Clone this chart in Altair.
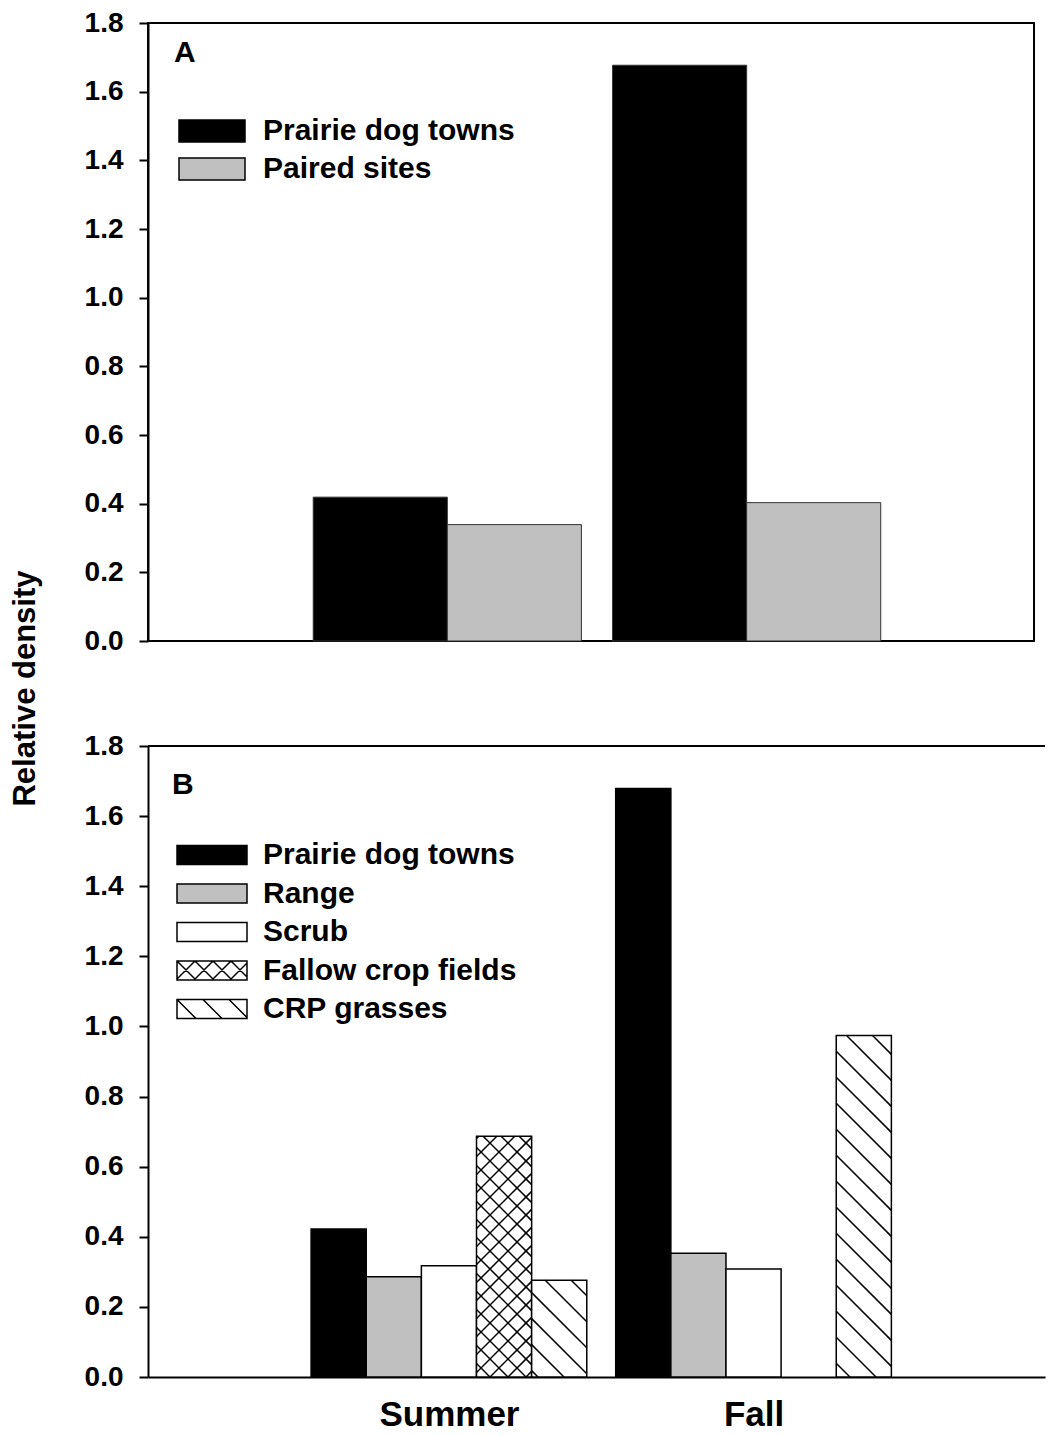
import math
import altair as alt
import pandas as pd

# ---------------- data ----------------
seasons = ["Summer", "Fall"]

a_series = ["Prairie dog towns", "Paired sites"]
a_summer = [0.419, 0.339]
a_fall = [1.677, 0.403]

b_series = ["Prairie dog towns", "Range", "Scrub", "Fallow crop fields", "CRP grasses"]
b_summer = [0.422, 0.286, 0.317, 0.687, 0.276]
b_fall = [1.679, 0.353, 0.308, None, 0.974]

y_ticks = [0.0, 0.2, 0.4, 0.6, 0.8, 1.0, 1.2, 1.4, 1.6, 1.8]
y_title = "Relative density"

# ---------------- styles / layout ----------------
FONT = "Liberation Sans"
GRAY = "#c0c0c0"
a_fills = ["black", GRAY]
b_fills = ["black", GRAY, "white", "white", "white"]
b_patterns = [None, None, None, "cross", "diag"]
PERIOD = {"cross": 18.0, "diag": 26.0}

A_W, A_H = 886, 618
B_W, B_H = 897, 631
A_XDOM = [0.0, 2.96]
B_XDOM = [0.012, 0.012 + B_W / 304.6]
BAR_A = 0.448
BAR_B = 0.181
Y_DOM = [0.0, 1.8]


def bar_table(series, summer, fall, width):
    rows = []
    n = len(series)
    for g, vals in enumerate([summer, fall], start=1):
        for s, (name, v) in enumerate(zip(series, vals)):
            if v is None:
                continue
            x0 = g + (s - n / 2) * width
            rows.append(dict(season=seasons[g - 1], series=name, x0=x0, x1=x0 + width, value=v))
    return pd.DataFrame(rows)


a_df = bar_table(a_series, a_summer, a_fall, BAR_A)
b_df = bar_table(b_series, b_summer, b_fall, BAR_B)

# ---- hatch lines for patterned bars (pixel pattern converted to data units) ----
kx = B_W / (B_XDOM[1] - B_XDOM[0])
ky = B_H / (Y_DOM[1] - Y_DOM[0])


def hatch_segments(X0, X1, Y1, kind):
    P = PERIOD[kind]
    segs = []
    # "\" lines on screen: with y pointing up -> Y = -X + c
    for k in range(int(math.floor(X0 / P)) - 1, int(math.ceil((X1 + Y1) / P)) + 2):
        c = k * P
        lo, hi = max(X0, c - Y1), min(X1, c)
        if hi - lo > 0.5:
            segs.append((lo, c - lo, hi, c - hi))
    if kind == "cross":
        # "/" lines: Y = X + c
        for k in range(int(math.floor(-X1 / P)) - 1, int(math.ceil((Y1 - X0) / P)) + 2):
            c = k * P
            lo, hi = max(X0, -c), min(X1, Y1 - c)
            if hi - lo > 0.5:
                segs.append((lo, lo + c, hi, hi + c))
    return segs


hrows = []
for _, r in b_df.iterrows():
    kind = b_patterns[b_series.index(r["series"])]
    if kind is None:
        continue
    X0 = (r["x0"] - B_XDOM[0]) * kx
    X1 = (r["x1"] - B_XDOM[0]) * kx
    Y1 = r["value"] * ky
    for (xa, ya, xb, yb) in hatch_segments(X0, X1, Y1, kind):
        hrows.append(dict(hx0=B_XDOM[0] + xa / kx, hy0=ya / ky,
                          hx1=B_XDOM[0] + xb / kx, hy1=yb / ky))
h_df = pd.DataFrame(hrows)

# ---- legend symbol paths (unit = 10 px, symbol size 400 -> sqrt 20 px) ----
U = 10.0


def rect_path(W, H, kind=None):
    top, bot = -H / (2 * U), H / (2 * U)
    left, right = -1.0, -1.0 + W / U
    p = f"M{left:.3f},{top:.3f}H{right:.3f}V{bot:.3f}H{left:.3f}Z"
    if kind is None:
        return p
    P = PERIOD[kind]
    segs = []
    # "\" on screen (y down): y = x - c
    k = -int(H / P) - 2
    while k * P <= W + P:
        c = k * P
        lo, hi = max(0.0, c), min(W, c + H)
        if hi - lo > 0.5:
            segs.append((lo, lo - c, hi, hi - c))
        k += 1
    if kind == "cross":
        k = -1
        while k * P <= W + H + P:
            c = k * P
            lo, hi = max(0.0, c - H), min(W, c)
            if hi - lo > 0.5:
                segs.append((lo, c - lo, hi, c - hi))
            k += 1
    for (xa, ya, xb, yb) in segs:
        p += (f"M{left + xa / U:.3f},{top + ya / U:.3f}"
              f"L{left + xb / U:.3f},{top + yb / U:.3f}")
    return p


b_paths = [rect_path(70, 19, k) for k in b_patterns]
a_path = rect_path(66, 22)


def legend(title, lx, ly, title_pad, row_pad, label_offset, **extra):
    return alt.Legend(
        title=title, orient="none", legendX=lx, legendY=ly, direction="vertical",
        padding=0, titleFont=FONT, titleFontSize=30, titleFontWeight="bold",
        titleColor="black", titlePadding=title_pad, titleAnchor="start",
        labelFont=FONT, labelFontSize=30, labelFontWeight="bold", labelColor="black",
        labelOffset=label_offset, labelLimit=2000, symbolSize=400,
        symbolStrokeColor="black", symbolStrokeWidth=1.5, rowPadding=row_pad,
        symbolOffset=0, **extra)


def y_axis(title):
    kw = dict(values=y_ticks, format=".1f", grid=False, tickSize=9, tickWidth=2,
              tickColor="black", domainColor="black", domainWidth=2,
              labelFont=FONT, labelFontSize=28, labelFontWeight="bold",
              labelColor="black", labelPadding=16)
    if title:
        kw.update(title=title, titleFont=FONT, titleFontSize=31, titleFontWeight="bold",
                  titleColor="black", titleX=-123, titleY=665, titleAlign="center",
                  titleBaseline="middle", titleAngle=270)
    else:
        kw.update(title=None)
    return alt.Axis(**kw)


yA = alt.Y("value:Q", scale=alt.Scale(domain=Y_DOM, nice=False, zero=False), axis=y_axis(y_title))
yB = alt.Y("value:Q", scale=alt.Scale(domain=Y_DOM, nice=False, zero=False), axis=y_axis(None))

# ---------------- panel A ----------------
legA = legend("A", 26, 15, 48, 8, 59, symbolType=a_path)
panelA = alt.Chart(a_df).mark_rect(stroke="#333333", strokeWidth=1).encode(
    x=alt.X("x0:Q", scale=alt.Scale(domain=A_XDOM, nice=False, zero=False), axis=None),
    x2="x1:Q",
    y=yA,
    y2=alt.datum(0),
    fill=alt.Fill("series:N", scale=alt.Scale(domain=a_series, range=a_fills), legend=legA),
).properties(width=A_W, height=A_H,
             view=alt.ViewBackground(stroke="black", strokeWidth=2))

# ---------------- panel B ----------------
label_expr = "[" + ",".join(f"'{s}'" for s in seasons) + "][round(datum.value) - 1]"
xB_axis = alt.Axis(values=[1, 2], labelExpr=label_expr, ticks=False, grid=False,
                   domainColor="black", domainWidth=2, labelFont=FONT, labelFontSize=35,
                   labelFontWeight="bold", labelColor="black", labelPadding=20, title=None)
xB_scale = alt.Scale(domain=B_XDOM, nice=False, zero=False)
fillB_scale = alt.Scale(domain=b_series, range=b_fills)
legB = legend("B", 24, 24, 40, 8.5, 61)

barsB = alt.Chart(b_df).mark_rect(stroke="black", strokeWidth=1.5).encode(
    x=alt.X("x0:Q", scale=xB_scale, axis=xB_axis),
    x2="x1:Q",
    y=yB,
    y2=alt.datum(0),
    fill=alt.Fill("series:N", scale=fillB_scale, legend=legB),
)
hatchB = alt.Chart(h_df).mark_rule(stroke="black", strokeWidth=1.5).encode(
    x=alt.X("hx0:Q", scale=xB_scale, axis=xB_axis),
    x2="hx1:Q",
    y=alt.Y("hy0:Q", scale=alt.Scale(domain=Y_DOM, nice=False, zero=False), axis=y_axis(None)),
    y2="hy1:Q",
)
topB = alt.Chart(b_df).mark_rule(stroke="black", strokeWidth=2).encode(
    y=alt.datum(Y_DOM[1]),
)
legendB = alt.Chart(b_df).transform_filter("false").mark_point(
    filled=True, stroke="black", strokeWidth=1.5, opacity=1
).encode(
    x=alt.X("x0:Q", scale=xB_scale, axis=xB_axis),
    y=yB,
    fill=alt.Fill("series:N", scale=fillB_scale, legend=legB),
    shape=alt.Shape("series:N", scale=alt.Scale(domain=b_series, range=b_paths), legend=legB),
)
panelB = alt.layer(barsB, hatchB, topB, legendB).properties(width=B_W, height=B_H)

chart = alt.vconcat(panelA, panelB, spacing=105, bounds="flush").resolve_scale(
    fill="independent", shape="independent", x="independent", y="independent"
).resolve_legend(fill="independent", shape="independent").properties(
    padding={"left": 0, "top": 0, "right": 0, "bottom": 2}
).configure_view(stroke=None)

chart.save("out.html", embed_options={"renderer": "svg", "actions": False})
